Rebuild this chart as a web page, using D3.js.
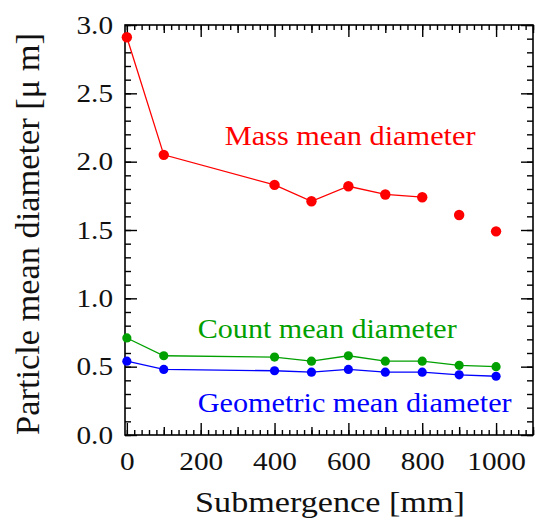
<!DOCTYPE html>
<html>
<head>
<meta charset="utf-8">
<script src="https://cdn.jsdelivr.net/npm/d3@7/dist/d3.min.js"></script>
<style>
  html, body { margin: 0; padding: 0; background: #fff; }
  svg { display: block; }
</style>
</head>
<body>
<svg id="chart" width="535" height="529"></svg>
<script>
// ---- data ----
const submergence = [0, 100, 400, 500, 600, 700, 800, 900, 1000];
const massMean = [2.91, 2.05, 1.83, 1.71, 1.82, 1.76, 1.74, 1.61, 1.49];
const massConnected = [true, true, true, true, true, true, true, false, false];
const countMean = [0.71, 0.58, 0.57, 0.54, 0.58, 0.54, 0.54, 0.51, 0.50];
const geometricMean = [0.54, 0.48, 0.47, 0.46, 0.48, 0.46, 0.46, 0.44, 0.43];
const xTickLabels = [0, 200, 400, 600, 800, 1000];
const yTickLabels = [0.0, 0.5, 1.0, 1.5, 2.0, 2.5, 3.0];
const seriesNames = ["Mass mean diameter", "Count mean diameter", "Geometric mean diameter"];

// ---- layout ----
const L = 125, R = 533, T = 25, B = 435;
const STRETCH = 1.17;
const FONT = '"Liberation Serif"';

const svg = d3.select("#chart");
const x = d3.scaleLinear().domain([-5, 1100]).range([L, R]);
const y = d3.scaleLinear().domain([0, 3]).range([B, T]);

// tick-only axes (inward)
function ticks(axisFn, scale, values, len, tx, ty) {
  const g = svg.append("g").attr("transform", `translate(${tx},${ty})`)
    .call(axisFn(scale).tickValues(values).tickSize(-len).tickFormat(""));
  g.select(".domain").remove();
  g.selectAll("line").attr("stroke", "#000").attr("stroke-width", 1.4);
  return g;
}

const xMinor = d3.range(0, 1101, 20);
const xMedium = d3.range(100, 1101, 200);
const yMinor = d3.range(0, 31, 1).map(d => d / 10);

ticks(d3.axisBottom, x, xMinor, 5, 0, B);
ticks(d3.axisBottom, x, xMedium, 8, 0, B);
ticks(d3.axisTop, x, xMinor, 5, 0, T);
ticks(d3.axisTop, x, xMedium, 8, 0, T);
ticks(d3.axisTop, x, xTickLabels, 12, 0, T);
ticks(d3.axisLeft, y, yMinor, 6, L, 0);
ticks(d3.axisRight, y, yMinor, 6, R, 0);
ticks(d3.axisRight, y, yTickLabels, 12, R, 0);

function styleAxis(g) {
  g.attr("font-family", null).attr("font-size", null);
  g.select(".domain").remove();
  g.selectAll("line").attr("stroke", "#000").attr("stroke-width", 1.4);
  g.selectAll("text").style("font-family", FONT).style("font-size", "25px").attr("fill", "#111");
}

const xAxis = svg.append("g").attr("transform", `translate(0,${B})`)
  .call(d3.axisBottom(x).tickValues(xTickLabels).tickSize(-12).tickPadding(17).tickFormat(d3.format("d")));
styleAxis(xAxis);
xAxis.selectAll("text").attr("transform", `scale(${STRETCH},1)`);

const yAxis = svg.append("g").attr("transform", `translate(${L},0)`)
  .call(d3.axisLeft(y).tickValues(yTickLabels).tickSize(-12).tickPadding(12).tickFormat(d3.format(".1f")));
styleAxis(yAxis);
yAxis.selectAll("text").attr("x", -12 / STRETCH).attr("transform", `scale(${STRETCH},1)`);

// frame
svg.append("rect").attr("x", L).attr("y", T).attr("width", R - L).attr("height", B - T)
  .attr("fill", "none").attr("stroke", "#000").attr("stroke-width", 1.6);

// series
const series = [
  { vals: massMean, color: "#ff0000", r: 5.2, connected: massConnected },
  { vals: countMean, color: "#00a000", r: 4.6, connected: submergence.map(() => true) },
  { vals: geometricMean, color: "#0000ff", r: 4.6, connected: submergence.map(() => true) }
];

const line = d3.line().x(d => x(d.x)).y(d => y(d.y));
series.forEach(s => {
  const pts = submergence.map((xv, i) => ({ x: xv, y: s.vals[i], c: s.connected[i] }));
  svg.append("path").datum(pts.filter(p => p.c)).attr("d", line)
    .attr("fill", "none").attr("stroke", s.color).attr("stroke-width", 1.3);
  svg.append("g").selectAll("circle").data(pts).join("circle")
    .attr("cx", d => x(d.x)).attr("cy", d => y(d.y)).attr("r", s.r).attr("fill", s.color);
});

// text placed with a horizontal stretch so its length matches the target
function fitText(str, px, py, size, len, color, anchor, rotate) {
  const t = svg.append("text").attr("x", 0).attr("y", 0)
    .style("font-family", FONT).style("font-size", size + "px").attr("fill", color)
    .attr("text-anchor", anchor).text(str);
  const k = len / t.node().getComputedTextLength();
  t.attr("transform", rotate
    ? `translate(${px},${py}) rotate(-90) scale(${k},1)`
    : `translate(${px},${py}) scale(${k},1)`);
  return t;
}

// series labels (anchored in data space)
const labelAnchors = [
  { text: seriesNames[0], x: 265, y: 2.125, len: 251, color: "#ff0000" },
  { text: seriesNames[1], x: 192, y: 0.71, len: 259, color: "#00a000" },
  { text: seriesNames[2], x: 192, y: 0.17, len: 314, color: "#0000ff" }
];
labelAnchors.forEach(l => fitText(l.text, x(l.x), y(l.y), 27, l.len, l.color, "start", false));

// axis titles
fitText("Submergence [mm]", (L + R) / 2 + 1, 512, 29, 270, "#111", "middle", false);
fitText("Particle mean diameter [μ m]", 39, 234, 33, 402, "#111", "middle", true);
</script>
</body>
</html>
